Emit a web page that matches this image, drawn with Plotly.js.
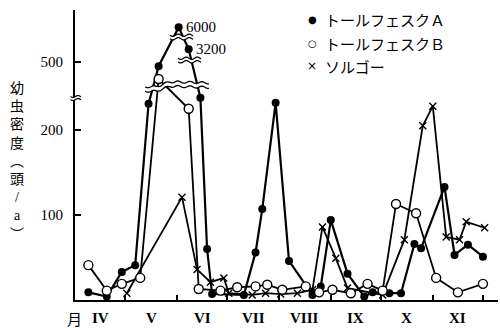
<!DOCTYPE html>
<html><head><meta charset="utf-8">
<script src="https://cdn.plot.ly/plotly-3.0.1.min.js"></script>
<style>html,body{margin:0;padding:0;background:#fff}#chart{width:500px;height:328px}</style>
</head><body><div id="chart"></div>
<script>
// ---------------- data ----------------
const seriesNames = ['トールフェスクＡ', 'トールフェスクＢ', 'ソルゴー'];

const datesA = ['1970-04-09','1970-04-20','1970-04-29','1970-05-07','1970-05-15','1970-05-21',
  '1970-06-02','1970-06-08','1970-06-15','1970-06-19','1970-06-22','1970-07-11','1970-07-18',
  '1970-07-22','1970-07-30','1970-08-07','1970-08-21','1970-08-26','1970-09-01','1970-09-11',
  '1970-09-21','1970-09-26','1970-10-06','1970-10-13','1970-10-21','1970-10-25','1970-11-08',
  '1970-11-14','1970-11-22','1970-12-01'];
const valuesA = [9, 4, 33, 41, 231, 495, 6000, 3200, 238, 60, 7, 6, 56, 107, 232, 46, 6, 16, 94, 31,
  4, 9, 8, 8, 66, 61, 133, 53, 65, 51];

const datesB = ['1970-04-09','1970-04-20','1970-04-29','1970-05-10','1970-05-21','1970-06-08',
  '1970-06-14','1970-06-27','1970-07-07','1970-07-18','1970-07-25','1970-08-03','1970-08-17',
  '1970-08-25','1970-09-02','1970-09-13','1970-09-23','1970-10-02','1970-10-10','1970-10-22',
  '1970-11-03','1970-11-16','1970-12-01'];
const valuesB = [41, 11, 19, 26, 480, 225, 13, 11, 15, 16, 18, 12, 16, 9, 12, 8, 19, 11, 113, 102, 26, 9, 19];

const datesC = ['1970-05-02','1970-06-04','1970-06-13','1970-06-21','1970-06-29','1970-07-02',
  '1970-07-16','1970-07-24','1970-08-02','1970-08-12','1970-08-21','1970-08-27','1970-09-04',
  '1970-09-11','1970-10-02','1970-10-15','1970-10-26','1970-11-01','1970-11-09','1970-11-17',
  '1970-11-21','1970-12-02'];
const valuesC = [8, 121, 36, 21, 26, 8, 6, 8, 7, 8, 12, 86, 49, 14, 6, 71, 205, 228, 74, 71, 92, 85];

const monthLabels = ['IV','V','VI','VII','VIII','IX','X','XI'];
const monthStarts = ['1970-04-01','1970-05-01','1970-06-01','1970-07-01','1970-08-01',
  '1970-09-01','1970-10-01','1970-11-01','1970-12-01'];
const yTickValues = [100, 200, 500];

// ---------------- broken y scale ----------------
function brokenScale(v) {
  if (v <= 250) return v;
  if (v <= 1000) return v - 220;
  return 295 + (v - 3200) * 26 / 2800;
}

// ---------------- geometry helpers (decorations only) ----------------
const L = 75, R = 498, T = 10, B = 300;
const W = R - L, H = B - T;
const pX = px => (px - L) / W;
const pY = py => (B - py) / H;

function wave(x0, x1, ycFn, amp, period, off) {
  const pts = [];
  for (let x = x0; x <= x1 + 0.001; x += 0.5) {
    pts.push([x, ycFn(x) + off + amp * Math.sin(2 * Math.PI * (x - x0) / period)]);
  }
  return pts;
}
function toPath(pts, close) {
  return 'M' + pts.map(p => pX(p[0]).toFixed(5) + ',' + pY(p[1]).toFixed(5)).join('L') + (close ? 'Z' : '');
}
function breakShapes(x0, x1, ycFn, gap, amp, period, lw) {
  const top = wave(x0, x1, ycFn, amp, period, -gap / 2);
  const bot = wave(x0, x1, ycFn, amp, period, gap / 2);
  const fill = top.concat(bot.slice().reverse());
  return [
    {type: 'path', xref: 'paper', yref: 'paper', path: toPath(fill, true), fillcolor: '#fff', line: {width: 0}},
    {type: 'path', xref: 'paper', yref: 'paper', path: toPath(top, false), line: {color: '#000', width: lw}},
    {type: 'path', xref: 'paper', yref: 'paper', path: toPath(bot, false), line: {color: '#000', width: lw}}
  ];
}

const shapes = [].concat(
  breakShapes(145, 209, x => x < 156 ? 89 : (x < 170 ? 89 - (x - 156) * 5 / 14 : 84 + (x - 170) * 0.03), 4.5, 1.0, 12, 1.3),
  breakShapes(170, 193, x => 37, 3.5, 1.2, 11, 1.2),
  breakShapes(178, 201, x => 60, 3.5, 1.2, 11, 1.2),
  breakShapes(70.5, 81, x => 98, 3, 1.0, 10, 1.2)
);

// ---------------- traces ----------------
const traceC = {
  x: datesC, y: valuesC.map(brokenScale), name: seriesNames[2], type: 'scatter', mode: 'lines+markers',
  line: {color: '#000', width: 1.8},
  marker: {symbol: 'x-thin-open', size: 7, color: '#000', line: {color: '#000', width: 1.4}},
  cliponaxis: false
};
const traceA = {
  x: datesA, y: valuesA.map(brokenScale), name: seriesNames[0], type: 'scatter', mode: 'lines+markers',
  line: {color: '#000', width: 2.2},
  marker: {symbol: 'circle', size: 8, color: '#000'},
  cliponaxis: false
};
const traceB = {
  x: datesB, y: valuesB.map(brokenScale), name: seriesNames[1], type: 'scatter', mode: 'lines+markers',
  line: {color: '#000', width: 1.8},
  marker: {symbol: 'circle', size: 9, color: '#fff', line: {color: '#000', width: 1.4}},
  cliponaxis: false
};

// ---------------- annotations ----------------
const annotations = [];
const serif = 'Liberation Serif, Times New Roman, serif';
const cjk = 'Noto Sans CJK JP, sans-serif';

// large-value labels (6000, 3200)
valuesA.forEach((v, i) => {
  if (v > 1000) annotations.push({
    x: datesA[i], y: brokenScale(v), xref: 'x', yref: 'y', text: String(v), showarrow: false,
    xanchor: 'left', yanchor: 'middle', xshift: 5, font: {family: serif, size: 15, color: '#000'}
  });
});

// month labels at mid-month
monthLabels.forEach((m, i) => {
  const a = new Date(monthStarts[i] + 'T00:00:00Z').getTime();
  const b = new Date(monthStarts[i + 1] + 'T00:00:00Z').getTime();
  const mid = new Date((a + b) / 2).toISOString().slice(0, 16).replace('T', ' ');
  annotations.push({
    x: mid, y: pY(318), xref: 'x', yref: 'paper', text: '<b>' + m + '</b>', showarrow: false,
    xanchor: 'center', yanchor: 'middle', font: {family: serif, size: 15, color: '#000'}
  });
});
annotations.push({x: pX(74), y: pY(318), xref: 'paper', yref: 'paper', text: '月', showarrow: false,
  xanchor: 'center', yanchor: 'middle', font: {family: cjk, size: 15, color: '#000'}});

// vertical y-axis title (one stacked text)
const titleChars = ['幼', '虫', '密', '度', '︵', '頭', '<span style="font-family:Liberation Serif">/</span>',
  '<span style="font-family:Liberation Serif">a</span>', '︶'];
annotations.push({x: pX(17), y: pY(160), xref: 'paper', yref: 'paper', text: titleChars.join('<br>'),
  showarrow: false, xanchor: 'center', yanchor: 'middle', align: 'center',
  font: {family: cjk, size: 14, color: '#000'}});

// legend (symbol + text)
const legendSymbols = ['●', '○', '×'];
const legendY = [20, 43, 66];
seriesNames.forEach((n, i) => {
  annotations.push({x: pX(312), y: pY(legendY[i]), xref: 'paper', yref: 'paper', text: legendSymbols[i],
    showarrow: false, xanchor: 'center', yanchor: 'middle',
    font: {family: 'DejaVu Sans, sans-serif', size: i === 2 ? 12 : 10, color: '#000'}});
  annotations.push({x: pX(323), y: pY(legendY[i]), xref: 'paper', yref: 'paper', text: n,
    showarrow: false, xanchor: 'left', yanchor: 'middle',
    font: {family: cjk, size: 15, color: '#000'}});
});

// ---------------- layout ----------------
const layout = {
  width: 500, height: 328,
  margin: {l: L, r: 500 - R, t: T, b: 328 - B, pad: 0},
  paper_bgcolor: '#fff', plot_bgcolor: '#fff',
  showlegend: false,
  xaxis: {
    type: 'date', range: ['1970-04-01', '1970-12-10'],
    showline: true, linecolor: '#000', linewidth: 2,
    tickmode: 'array', tickvals: monthStarts.slice(1), ticktext: monthStarts.slice(1).map(() => ''),
    ticks: 'inside', ticklen: 5, tickwidth: 1.5, tickcolor: '#000',
    showticklabels: false, showgrid: false, zeroline: false, fixedrange: true
  },
  yaxis: {
    range: [0, H / 0.85],
    showline: true, linecolor: '#000', linewidth: 2,
    tickmode: 'array', tickvals: yTickValues.map(brokenScale), ticktext: yTickValues.map(String),
    ticks: 'inside', ticklen: 6, tickwidth: 1.5, tickcolor: '#000',
    ticklabelstandoff: 7,
    tickfont: {family: serif, size: 15, color: '#000'},
    showgrid: false, zeroline: false, fixedrange: true
  },
  shapes: shapes,
  annotations: annotations
};

Plotly.newPlot('chart', [traceC, traceA, traceB], layout, {displayModeBar: false, staticPlot: true});
</script>
</body></html>
